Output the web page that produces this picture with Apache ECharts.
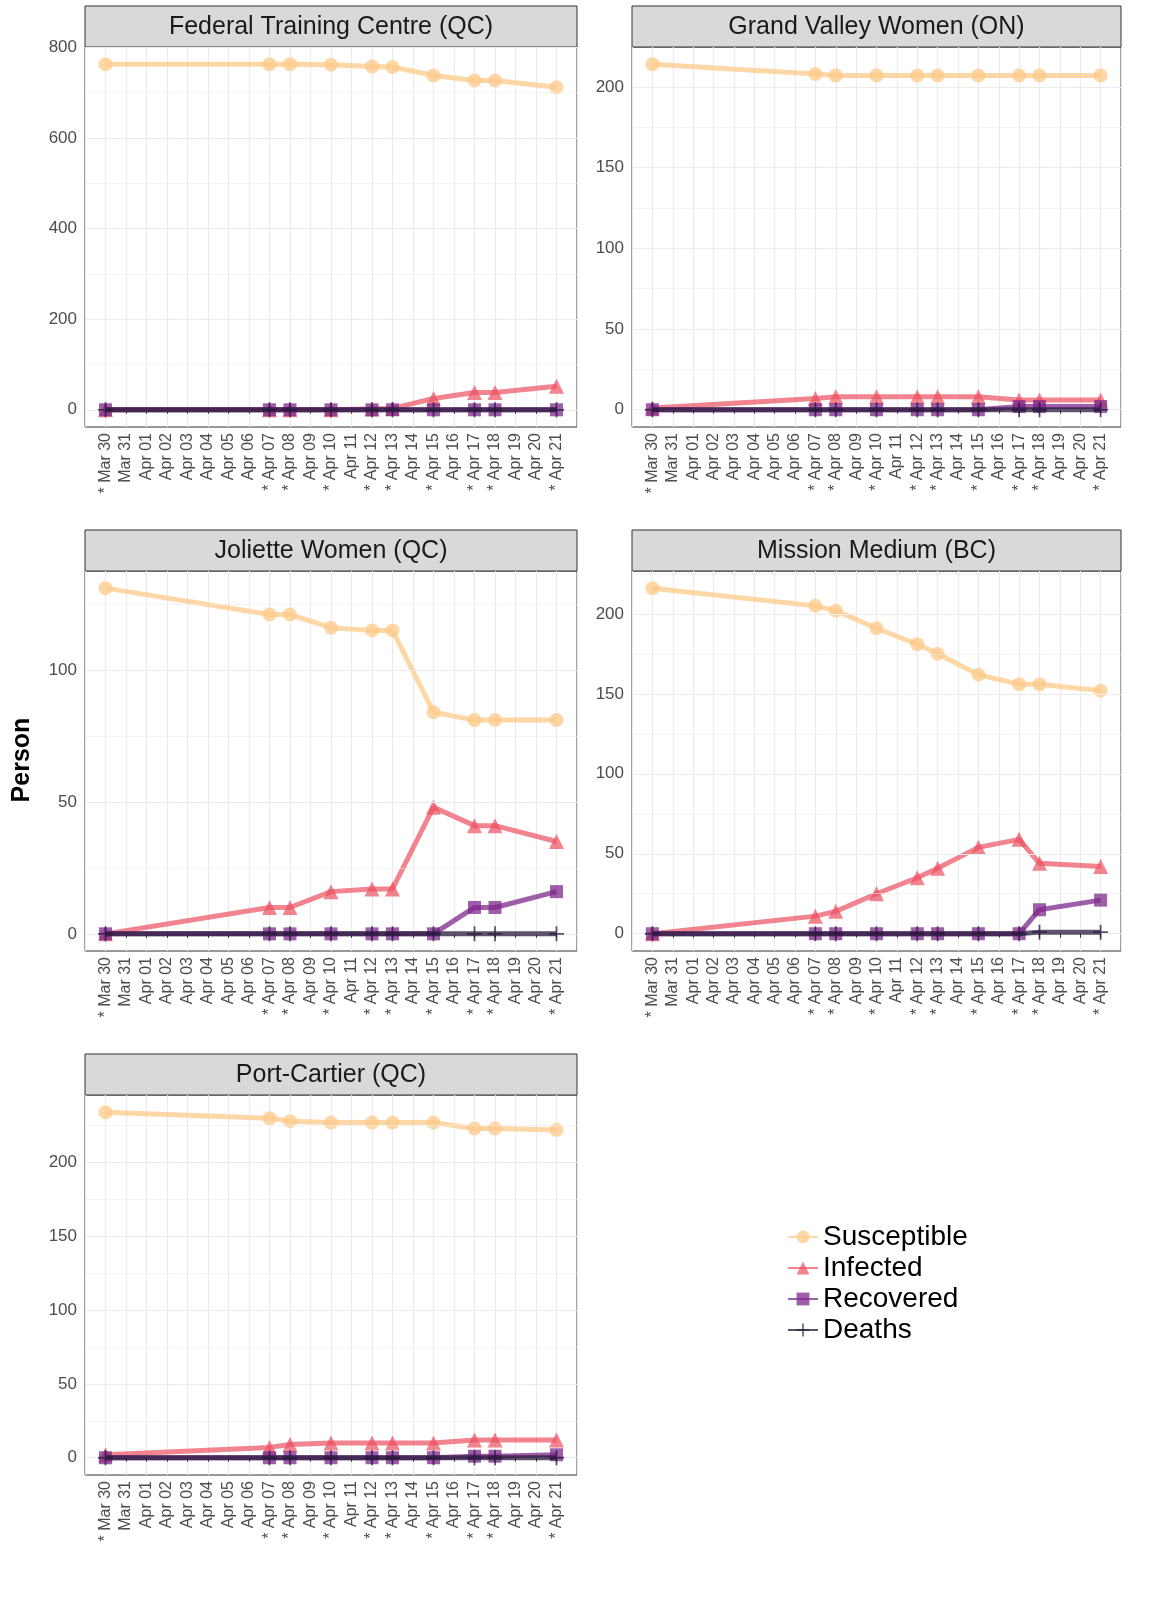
<!DOCTYPE html>
<html><head><meta charset="utf-8">
<script src="https://cdn.jsdelivr.net/npm/echarts@6/dist/echarts.min.js"></script>
<style>html,body{margin:0;background:#fff}#c{width:1158px;height:1619px}</style>
</head><body><div id="c"></div>
<script>
// Daily axis: Mar 30 .. Apr 21; report days are starred.
const days = ['Mar 30','Mar 31','Apr 01','Apr 02','Apr 03','Apr 04','Apr 05','Apr 06','Apr 07','Apr 08','Apr 09',
  'Apr 10','Apr 11','Apr 12','Apr 13','Apr 14','Apr 15','Apr 16','Apr 17','Apr 18','Apr 19','Apr 20','Apr 21'];
const reportDays = ['Mar 30','Apr 07','Apr 08','Apr 10','Apr 12','Apr 13','Apr 15','Apr 17','Apr 18','Apr 21'];

const facilities = ['Federal Training Centre (QC)','Grand Valley Women (ON)','Joliette Women (QC)','Mission Medium (BC)','Port-Cartier (QC)'];
const susceptible = [
  [763,763,763,762,758,757,738,727,727,712],
  [214,208,207,207,207,207,207,207,207,207],
  [131,121,121,116,115,115,84,81,81,81],
  [216,205,202,191,181,175,162,156,156,152],
  [234,230,228,227,227,227,227,223,223,222]];
const infected = [
  [0,0,0,0,2,3,25,38,38,52],
  [1,7,8,8,8,8,8,6,6,6],
  [0,10,10,16,17,17,48,41,41,35],
  [0,11,14,25,35,41,54,59,44,42],
  [2,7,9,10,10,10,10,12,12,12]];
const recovered = [
  [0,0,0,0,0,0,0,0,0,0],
  [0,0,0,0,0,0,0,2,2,2],
  [0,0,0,0,0,0,0,10,10,16],
  [0,0,0,0,0,0,0,0,15,21],
  [0,0,0,0,0,0,0,1,1,2]];
const deaths = [
  [0,0,0,0,0,0,0,0,0,0],
  [0,0,0,0,0,0,0,0,0,0],
  [0,0,0,0,0,0,0,0,0,0],
  [0,0,0,0,0,0,0,0,1,1],
  [0,0,0,0,0,0,0,0,0,0]];
const yTicks = [[0,200,400,600,800],[0,50,100,150,200],[0,50,100],[0,50,100,150,200],[0,50,100,150,200]];
const yRange = [[-38,801],[-10.7,224.7],[-6.5,137.5],[-10.8,226.8],[-11.7,245.7]];

const boxes = [[85,47,492,380],[632,47,489,380],[85,571,492,380],[632,571,489,380],[85,1095,492,380]];
const seriesDefs = [
  {name:'Susceptible', data:susceptible, color:'rgba(253,201,138,0.75)', symbol:'circle', size:14},
  {name:'Infected', data:infected, color:'rgba(235,80,95,0.7)', symbol:'triangle', size:15},
  {name:'Recovered', data:recovered, color:'rgba(125,40,140,0.75)', symbol:'rect', size:13},
  {name:'Deaths', data:deaths, color:'rgba(40,25,60,0.75)', symbol:'path://M4.4,0h1.2v10h-1.2z M0,4.4h10v1.2h-10z', size:15}];

const grid = [], xAxis = [], yAxis = [], series = [], graphic = [];
boxes.forEach(([l,t,w,h], i) => {
  grid.push({left:l, top:t, width:w, height:h, show:true, borderColor:'#333', borderWidth:1, backgroundColor:'#fff'});
  graphic.push({type:'rect', shape:{x:l, y:t-41, width:w, height:41}, style:{fill:'#d9d9d9', stroke:'#333', lineWidth:1}});
  graphic.push({type:'text', x:l+w/2, y:t-20, style:{text:facilities[i], fill:'#1a1a1a', font:'25px "Liberation Sans", Arial', align:'center', verticalAlign:'middle'}});
  xAxis.push({gridIndex:i, type:'value', min:-1, max:23, interval:1,
    axisLine:{show:false}, axisTick:{show:true, length:4, lineStyle:{color:'#333'}},
    splitLine:{show:true, lineStyle:{color:'#ebebeb', width:1.2}},
    axisLabel:{rotate:90, fontSize:16, color:'#4d4d4d', margin:6, showMinLabel:false, showMaxLabel:false,
      formatter: v => { const d = days[v]; if (!d) return ''; return (reportDays.includes(d) ? '* ' : '') + d; }}});
  const ticks = yTicks[i];
  const step = ticks[1] - ticks[0];
  const lines = [];
  for (let v = ticks[0]; v <= yRange[i][1]; v += step/2) lines.push({yAxis:v, lineStyle:{width: (v % step === 0) ? 1.2 : 0.6}});
  yAxis.push({gridIndex:i, type:'value', min:yRange[i][0], max:yRange[i][1],
    axisLine:{show:false}, splitLine:{show:false},
    axisTick:{show:true, customValues:ticks, length:4, lineStyle:{color:'#333'}},
    axisLabel:{customValues:ticks, fontSize:17, color:'#4d4d4d', margin:8}});
  series.push({type:'line', xAxisIndex:i, yAxisIndex:i, data:[], silent:true, z:1,
    markLine:{silent:true, symbol:'none', label:{show:false}, lineStyle:{color:'#ebebeb', type:'solid'}, data:lines, animation:false}});
  seriesDefs.forEach((s, k) => {
    series.push({name:s.name, type:'line', xAxisIndex:i, yAxisIndex:i, z:3+k,
      data:s.data[i].map((v, j) => [days.indexOf(reportDays[j]), v]),
      symbol:s.symbol, symbolSize:s.size, showAllSymbol:true,
      lineStyle:{color:s.color, width:5}, itemStyle:{color:s.color}, animation:false});
  });
});
graphic.push({type:'text', x:22, y:760, rotation:Math.PI/2, style:{text:'Person', fill:'#000', font:'bold 25px "Liberation Sans", Arial', align:'center', verticalAlign:'middle'}});

const chart = echarts.init(document.getElementById('c'));
chart.setOption({
  animation:false,
  textStyle:{fontFamily:'"Liberation Sans", Arial'},
  grid, xAxis, yAxis, series, graphic,
  legend:{orient:'vertical', left:782, top:1218, itemGap:3, itemWidth:30, itemHeight:16,
    data:seriesDefs.map(s => s.name), textStyle:{fontSize:28, color:'#000'}}
});
</script></body></html>
